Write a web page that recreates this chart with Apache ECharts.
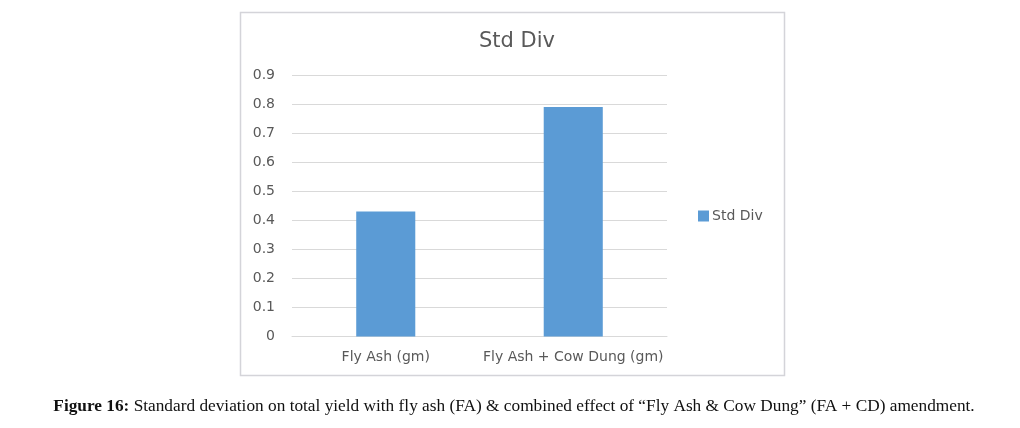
<!DOCTYPE html>
<html><head><meta charset="utf-8">
<script src="https://cdn.jsdelivr.net/npm/echarts@6/dist/echarts.min.js"></script>
<style>html,body{margin:0;padding:0;background:#fff}#c{width:1020px;height:428px}</style>
</head><body><div id="c"></div>
<script>
const categories = ['Fly Ash (gm)', 'Fly Ash + Cow Dung (gm)'];
const seriesName = 'Std Div';
const values = [0.43, 0.79];
const chartTitle = 'Std Div';
const captionBold = 'Figure 16:';
const captionText = ' Standard deviation on total yield with fly ash (FA) & combined effect of \u201cFly Ash & Cow Dung\u201d (FA + CD) amendment.';

const sans = 'DejaVu Sans';
const chart = echarts.init(document.getElementById('c'), null, {renderer: 'canvas'});
chart.setOption({
  animation: false,
  backgroundColor: '#fff',
  title: [{
    text: chartTitle, left: 512, top: 26, textAlign: 'center',
    textStyle: {fontFamily: sans, fontSize: 21, fontWeight: 'normal', color: '#595959'}
  }, {
    text: '{b|' + captionBold + '}{n|' + captionText + '}',
    left: 509, top: 393, textAlign: 'center',
    textStyle: {fontWeight: 'normal', rich: {
      b: {fontFamily: 'Liberation Serif', fontSize: 17.3, fontWeight: 'bold', color: '#111'},
      n: {fontFamily: 'Liberation Serif', fontSize: 17.3, fontWeight: 'normal', color: '#111'}
    }}
  }],
  graphic: [{
    type: 'rect', shape: {x: 240.5, y: 12.5, width: 544, height: 363},
    style: {fill: 'none', stroke: '#d4d4d9', lineWidth: 1.5}, silent: true
  }],
  legend: {
    data: [seriesName], left: 698, top: 209, padding: 0, itemWidth: 11, itemHeight: 11, itemGap: 4,
    icon: 'rect',
    textStyle: {fontFamily: sans, fontSize: 14, color: '#595959', padding: [0,0,0,-2]}
  },
  grid: {left: 292, right: 353, top: 75, bottom: 91.5, containLabel: false},
  xAxis: {
    type: 'category', data: categories,
    axisLine: {lineStyle: {color: '#d9d9d9', width: 1}},
    axisTick: {show: false},
    axisLabel: {fontFamily: sans, fontSize: 14, color: '#595959', margin: 14, interval: 0}
  },
  yAxis: {
    type: 'value', min: 0, max: 0.9, interval: 0.1,
    axisLine: {show: false}, axisTick: {show: false},
    splitLine: {lineStyle: {color: '#d9d9d9', width: 1}},
    axisLabel: {fontFamily: sans, fontSize: 14, color: '#595959', margin: 17,
      formatter: v => v === 0 ? '0' : v.toFixed(1)}
  },
  series: [{
    name: seriesName, type: 'bar', data: values, barWidth: '31.5%',
    itemStyle: {color: '#5b9bd5'}
  }]
});
</script></body></html>
